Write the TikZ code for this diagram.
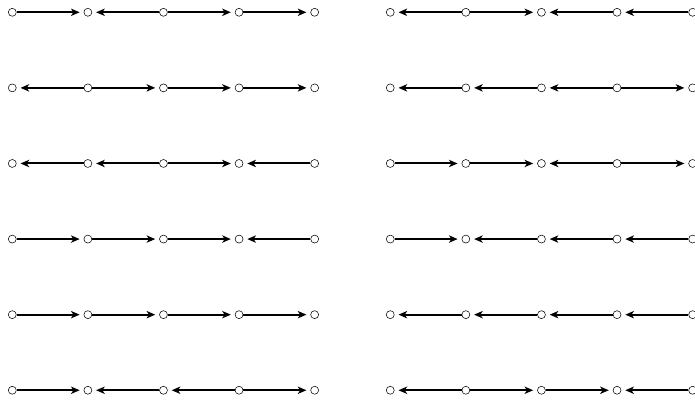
\documentclass[tikz,border=0pt]{standalone}
\usetikzlibrary{arrows.meta}

\begin{document}
\begin{tikzpicture}[x=2cm,y=2cm,
  fw/.style={-{Stealth[length=6.5pt,width=5.5pt,inset=1.8pt]},line width=1.5pt,shorten >=3pt},
  bw/.style={{Stealth[length=6.5pt,width=5.5pt,inset=1.8pt]}-,line width=1.5pt,shorten <=3pt}]
\useasboundingbox (-0.1625,0.1625) rectangle (9.0315,-5.142);
\begin{scope}[every node/.style={circle,draw,inner sep=0pt,minimum size=6pt,line width=0.4pt}]
\foreach \r in {1,...,6}{
  \foreach \c in {1,...,5}{
    \node (L\r\c) at (\c-1,1-\r) {};
    \node (R\r\c) at (\c+4,1-\r) {};
  }
}
\end{scope}
% left column
\foreach \r/\dirs in {1/{fw,bw,fw,fw},2/{bw,fw,fw,fw},3/{bw,bw,fw,bw},
                      4/{fw,fw,fw,bw},5/{fw,fw,fw,fw},6/{fw,bw,bw,fw}}{
  \foreach \d [count=\c] in \dirs{
    \pgfmathtruncatemacro\n{\c+1}
    \draw [\d] (L\r\c) -- (L\r\n);
  }
}
% right column
\foreach \r/\dirs in {1/{bw,fw,bw,bw},2/{bw,bw,bw,fw},3/{fw,fw,bw,fw},
                      4/{fw,bw,bw,bw},5/{bw,bw,bw,bw},6/{bw,fw,fw,bw}}{
  \foreach \d [count=\c] in \dirs{
    \pgfmathtruncatemacro\n{\c+1}
    \draw [\d] (R\r\c) -- (R\r\n);
  }
}
\end{tikzpicture}
\end{document}
